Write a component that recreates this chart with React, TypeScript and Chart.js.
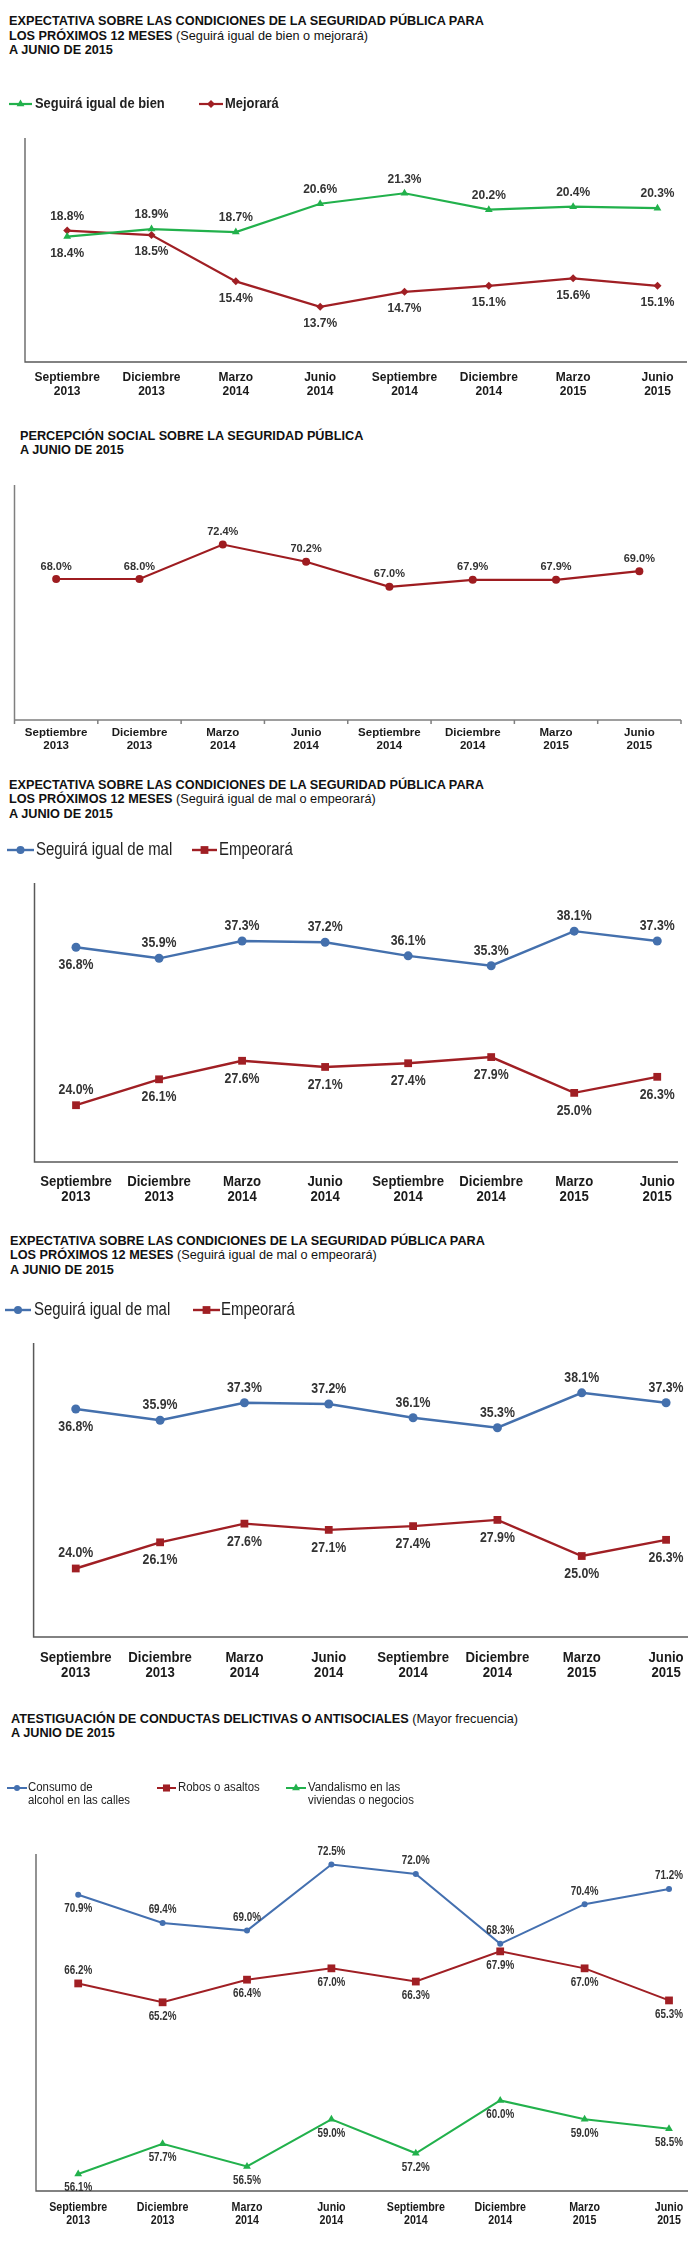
import React, { useEffect, useRef } from "react";
import { Chart, registerables } from "chart.js";

Chart.register(...registerables);

// ---------- DATA ----------
const periods: string[][] = [
  ["Septiembre", "2013"],
  ["Diciembre", "2013"],
  ["Marzo", "2014"],
  ["Junio", "2014"],
  ["Septiembre", "2014"],
  ["Diciembre", "2014"],
  ["Marzo", "2015"],
  ["Junio", "2015"],
];

const bienValues = [18.4, 18.9, 18.7, 20.6, 21.3, 20.2, 20.4, 20.3];
const mejoraraValues = [18.8, 18.5, 15.4, 13.7, 14.7, 15.1, 15.6, 15.1];
const percepcionValues = [68.0, 68.0, 72.4, 70.2, 67.0, 67.9, 67.9, 69.0];
const malValues = [36.8, 35.9, 37.3, 37.2, 36.1, 35.3, 38.1, 37.3];
const empeoraraValues = [24.0, 26.1, 27.6, 27.1, 27.4, 27.9, 25.0, 26.3];
const alcoholValues = [70.9, 69.4, 69.0, 72.5, 72.0, 68.3, 70.4, 71.2];
const robosValues = [66.2, 65.2, 66.4, 67.0, 66.3, 67.9, 67.0, 65.3];
const vandalismoValues = [56.1, 57.7, 56.5, 59.0, 57.2, 60.0, 59.0, 58.5];

// label placement (a = above, b = below)
const bienPlace = ["b", "a", "a", "a", "a", "a", "a", "a"];
const mejoraraPlace = ["a", "b", "b", "b", "b", "b", "b", "b"];
const percepcionPlace = ["a", "a", "a", "a", "a", "a", "a", "a"];
const malPlace = ["b", "a", "a", "a", "a", "a", "a", "a"];
const empeoraraPlace = ["a", "b", "b", "b", "b", "b", "b", "b"];
const alcoholPlace = ["b", "a", "a", "a", "a", "a", "a", "a"];
const robosPlace = ["a", "b", "b", "b", "b", "b", "b", "b"];
const vandalismoPlace = ["b", "b", "b", "b", "b", "b", "b", "b"];

// ---------- STYLE ----------
const FONT = "'Liberation Sans', Arial, Helvetica, sans-serif";
const GREEN = "#22b14c";
const RED = "#a01f24";
const BLUE = "#4470ad";

type Series = {
  label: string[];
  values: number[];
  color: string;
  point: string;
  radius: number;
  place: string[];
  width: number;
};

type TextStyle = { font: string; h: number; color: string };

type Spec = {
  top: number;
  height: number;
  axis: { left: number; right: number; top: number; bottom: number; color: string; width: number };
  xMax: number;
  yMin: number;
  yMax: number;
  series: Series[];
  tick: TextStyle & { y1: number; lh: number };
  tickMarks: boolean;
  label: TextStyle & { up: number; down: number };
  legend?: TextStyle & { y: number; lh: number; items: { x: number; len: number; tx: number; r: number }[] };
};

function drawText(
  ctx: CanvasRenderingContext2D,
  text: string,
  x: number,
  y: number,
  st: TextStyle,
  align: CanvasTextAlign
) {
  ctx.save();
  ctx.font = st.font;
  ctx.fillStyle = st.color;
  ctx.textAlign = align;
  ctx.textBaseline = "middle";
  ctx.translate(x, y);
  ctx.scale(st.h, 1);
  ctx.fillText(text, 0, 0);
  ctx.restore();
}

function drawMarker(ctx: CanvasRenderingContext2D, style: string, x: number, y: number, r: number, color: string) {
  ctx.save();
  ctx.fillStyle = color;
  ctx.beginPath();
  if (style === "circle") {
    ctx.arc(x, y, r, 0, Math.PI * 2);
  } else if (style === "rect") {
    const s = r * Math.SQRT1_2;
    ctx.rect(x - s, y - s, 2 * s, 2 * s);
  } else if (style === "rectRot") {
    ctx.moveTo(x, y - r);
    ctx.lineTo(x + r, y);
    ctx.lineTo(x, y + r);
    ctx.lineTo(x - r, y);
    ctx.closePath();
  } else {
    ctx.moveTo(x, y - r);
    ctx.lineTo(x + r * 0.866, y + r * 0.5);
    ctx.lineTo(x - r * 0.866, y + r * 0.5);
    ctx.closePath();
  }
  ctx.fill();
  ctx.restore();
}

function decorPlugin(spec: Spec) {
  return {
    id: "decor",
    beforeDatasetsDraw(chart: any) {
      const { ctx, chartArea: a, scales } = chart;
      ctx.save();
      ctx.strokeStyle = spec.axis.color;
      ctx.lineWidth = spec.axis.width;
      ctx.beginPath();
      ctx.moveTo(a.left, a.top);
      ctx.lineTo(a.left, a.bottom);
      ctx.lineTo(a.right, a.bottom);
      if (spec.tickMarks) {
        for (let i = 0; i <= periods.length; i++) {
          const x = scales.x.getPixelForValue(i - 0.5);
          ctx.moveTo(x, a.bottom);
          ctx.lineTo(x, a.bottom + 4);
        }
      }
      ctx.stroke();
      ctx.restore();
    },
    afterDatasetsDraw(chart: any) {
      const { ctx, chartArea: a, scales } = chart;
      // category labels
      periods.forEach((p, i) => {
        const x = scales.x.getPixelForValue(i);
        drawText(ctx, p[0], x, a.bottom + spec.tick.y1, spec.tick, "center");
        drawText(ctx, p[1], x, a.bottom + spec.tick.y1 + spec.tick.lh, spec.tick, "center");
      });
      // value labels
      spec.series.forEach((s, d) => {
        const meta = chart.getDatasetMeta(d);
        meta.data.forEach((pt: any, i: number) => {
          const dy = s.place[i] === "a" ? -spec.label.up : spec.label.down;
          drawText(ctx, s.values[i].toFixed(1) + "%", pt.x, pt.y + dy, spec.label, "center");
        });
      });
      // legend
      const lg = spec.legend;
      if (lg) {
        const y = lg.y - spec.top;
        lg.items.forEach((it, k) => {
          const s = spec.series[k];
          ctx.save();
          ctx.strokeStyle = s.color;
          ctx.lineWidth = s.width;
          ctx.beginPath();
          ctx.moveTo(it.x, y);
          ctx.lineTo(it.x + it.len, y);
          ctx.stroke();
          ctx.restore();
          drawMarker(ctx, s.point, it.x + it.len / 2, y, it.r, s.color);
          s.label.forEach((line, j) => {
            drawText(ctx, line, it.tx, y + j * lg.lh, lg, "left");
          });
        });
      }
    },
  };
}

function LineChart({ spec }: { spec: Spec }) {
  const ref = useRef<HTMLCanvasElement>(null);
  useEffect(() => {
    const c = ref.current;
    if (!c) return;
    const pad = {
      left: spec.axis.left,
      right: 700 - spec.axis.right,
      top: spec.axis.top - spec.top,
      bottom: spec.top + spec.height - spec.axis.bottom,
    };
    const chart = new Chart(c, {
      type: "line",
      data: {
        datasets: spec.series.map((s) => ({
          label: s.label.join(" "),
          data: s.values.map((v, i) => ({ x: i, y: v })),
          borderColor: s.color,
          backgroundColor: s.color,
          borderWidth: s.width,
          pointStyle: s.point as any,
          pointRadius: s.radius,
          pointBorderWidth: 0,
          pointBackgroundColor: s.color,
          tension: 0,
          fill: false,
          clip: false as any,
        })),
      },
      options: {
        animation: false,
        responsive: false,
        maintainAspectRatio: false,
        devicePixelRatio: 1,
        events: [],
        layout: { padding: pad },
        scales: {
          x: { type: "linear", display: false, min: -0.5, max: spec.xMax },
          y: { type: "linear", display: false, min: spec.yMin, max: spec.yMax },
        },
        plugins: {
          legend: { display: false },
          tooltip: { enabled: false },
          title: { display: false },
        },
      } as any,
      plugins: [decorPlugin(spec) as any],
    });
    return () => chart.destroy();
  }, [spec]);
  return (
    <canvas
      ref={ref}
      width={700}
      height={spec.height}
      style={{ position: "absolute", left: 0, top: spec.top, width: 700, height: spec.height }}
    />
  );
}

const titleStyle = (left: number, top: number): React.CSSProperties => ({
  position: "absolute",
  left,
  top,
  font: `bold 12.7px ${FONT}`,
  lineHeight: "14.5px",
  color: "#111",
  whiteSpace: "nowrap",
});
const reg: React.CSSProperties = { fontWeight: "normal" };

const spec1: Spec = {
  top: 70,
  height: 340,
  axis: { left: 25, right: 687, top: 138, bottom: 362, color: "#595959", width: 1.3 },
  xMax: 7.35,
  yMin: 10,
  yMax: 25,
  series: [
    { label: ["Seguirá igual de bien"], values: bienValues, color: GREEN, point: "triangle", radius: 4.5, place: bienPlace, width: 2.2 },
    { label: ["Mejorará"], values: mejoraraValues, color: RED, point: "rectRot", radius: 4, place: mejoraraPlace, width: 2.2 },
  ],
  tick: { font: `bold 12px ${FONT}`, h: 1, color: "#1a1a1a", y1: 16, lh: 14 },
  tickMarks: false,
  label: { font: `bold 12px ${FONT}`, h: 1, color: "#333", up: 14, down: 17 },
  legend: {
    font: `bold 15px ${FONT}`,
    h: 0.86,
    color: "#222",
    y: 104,
    lh: 14,
    items: [
      { x: 9, len: 23, tx: 35, r: 4.5 },
      { x: 199, len: 24, tx: 225, r: 4 },
    ],
  },
};

const spec2: Spec = {
  top: 470,
  height: 290,
  axis: { left: 14.5, right: 681, top: 485, bottom: 720, color: "#7f7f7f", width: 1.5 },
  xMax: 7.5,
  yMin: 50,
  yMax: 80,
  series: [
    { label: ["Percepción"], values: percepcionValues, color: "#9e1c20", point: "circle", radius: 4, place: percepcionPlace, width: 2.2 },
  ],
  tick: { font: `bold 11.5px ${FONT}`, h: 1, color: "#1a1a1a", y1: 13, lh: 13 },
  tickMarks: true,
  label: { font: `bold 11px ${FONT}`, h: 1, color: "#333", up: 12.5, down: 14 },
};

const spec3: Spec = {
  top: 830,
  height: 390,
  axis: { left: 34.5, right: 678, top: 883, bottom: 1162, color: "#595959", width: 1.5 },
  xMax: 7.25,
  yMin: 19.4,
  yMax: 42,
  series: [
    { label: ["Seguirá igual de mal"], values: malValues, color: BLUE, point: "circle", radius: 4.5, place: malPlace, width: 2.4 },
    { label: ["Empeorará"], values: empeoraraValues, color: RED, point: "rect", radius: 5.5, place: empeoraraPlace, width: 2.4 },
  ],
  tick: { font: `bold 15.5px ${FONT}`, h: 0.85, color: "#1a1a1a", y1: 20, lh: 15 },
  tickMarks: false,
  label: { font: `bold 14.5px ${FONT}`, h: 0.85, color: "#333", up: 15, down: 18 },
  legend: {
    font: `18px ${FONT}`,
    h: 0.83,
    color: "#222",
    y: 850,
    lh: 16,
    items: [
      { x: 7, len: 27, tx: 36, r: 4 },
      { x: 192, len: 25, tx: 219, r: 5.5 },
    ],
  },
};

const spec4: Spec = {
  top: 1285,
  height: 420,
  axis: { left: 33.6, right: 688, top: 1343, bottom: 1637, color: "#595959", width: 1.5 },
  xMax: 7.26,
  yMin: 18.5,
  yMax: 42.1,
  series: [
    { label: ["Seguirá igual de mal"], values: malValues, color: BLUE, point: "circle", radius: 4.5, place: malPlace, width: 2.4 },
    { label: ["Empeorará"], values: empeoraraValues, color: RED, point: "rect", radius: 5.5, place: empeoraraPlace, width: 2.4 },
  ],
  tick: { font: `bold 15.5px ${FONT}`, h: 0.85, color: "#1a1a1a", y1: 21, lh: 15 },
  tickMarks: false,
  label: { font: `bold 14.5px ${FONT}`, h: 0.85, color: "#333", up: 15, down: 18 },
  legend: {
    font: `18px ${FONT}`,
    h: 0.83,
    color: "#222",
    y: 1310,
    lh: 16,
    items: [
      { x: 5, len: 26, tx: 34, r: 4 },
      { x: 193, len: 27, tx: 221, r: 5.5 },
    ],
  },
};

const spec5: Spec = {
  top: 1760,
  height: 483,
  axis: { left: 36, right: 688, top: 1854, bottom: 2191, color: "#595959", width: 1.3 },
  xMax: 7.225,
  yMin: 55.2,
  yMax: 73.06,
  series: [
    { label: ["Consumo de", "alcohol en las calles"], values: alcoholValues, color: "#4470b0", point: "circle", radius: 3, place: alcoholPlace, width: 2 },
    { label: ["Robos o asaltos"], values: robosValues, color: RED, point: "rect", radius: 5.5, place: robosPlace, width: 2 },
    { label: ["Vandalismo en las", "viviendas o negocios"], values: vandalismoValues, color: GREEN, point: "triangle", radius: 4.5, place: vandalismoPlace, width: 2 },
  ],
  tick: { font: `bold 13px ${FONT}`, h: 0.82, color: "#1a1a1a", y1: 16.5, lh: 12.7 },
  tickMarks: false,
  label: { font: `bold 12px ${FONT}`, h: 0.82, color: "#333", up: 13, down: 14 },
  legend: {
    font: `12px ${FONT}`,
    h: 0.95,
    color: "#222",
    y: 1788,
    lh: 12.5,
    items: [
      { x: 7, len: 20, tx: 28, r: 3 },
      { x: 157, len: 19, tx: 178, r: 5 },
      { x: 286, len: 20, tx: 308, r: 4.5 },
    ],
  },
};

export default function App() {
  return (
    <div style={{ position: "relative", width: 700, height: 2243, background: "#fff", overflow: "hidden" }}>
      <style>{"body{margin:0;background:#fff}"}</style>

      <div style={titleStyle(9, 14)}>
        <div>EXPECTATIVA SOBRE LAS CONDICIONES DE LA SEGURIDAD PÚBLICA PARA</div>
        <div>
          LOS PRÓXIMOS 12 MESES <span style={reg}>(Seguirá igual de bien o mejorará)</span>
        </div>
        <div>A JUNIO DE 2015</div>
      </div>
      <LineChart spec={spec1} />

      <div style={titleStyle(20, 428.75)}>
        <div>PERCEPCIÓN SOCIAL SOBRE LA SEGURIDAD PÚBLICA</div>
        <div>A JUNIO DE 2015</div>
      </div>
      <LineChart spec={spec2} />

      <div style={titleStyle(9, 777.75)}>
        <div>EXPECTATIVA SOBRE LAS CONDICIONES DE LA SEGURIDAD PÚBLICA PARA</div>
        <div>
          LOS PRÓXIMOS 12 MESES <span style={reg}>(Seguirá igual de mal o empeorará)</span>
        </div>
        <div>A JUNIO DE 2015</div>
      </div>
      <LineChart spec={spec3} />

      <div style={titleStyle(10, 1233.75)}>
        <div>EXPECTATIVA SOBRE LAS CONDICIONES DE LA SEGURIDAD PÚBLICA PARA</div>
        <div>
          LOS PRÓXIMOS 12 MESES <span style={reg}>(Seguirá igual de mal o empeorará)</span>
        </div>
        <div>A JUNIO DE 2015</div>
      </div>
      <LineChart spec={spec4} />

      <div style={titleStyle(11, 1711.75)}>
        <div>
          ATESTIGUACIÓN DE CONDUCTAS DELICTIVAS O ANTISOCIALES <span style={reg}>(Mayor frecuencia)</span>
        </div>
        <div>A JUNIO DE 2015</div>
      </div>
      <LineChart spec={spec5} />
    </div>
  );
}
